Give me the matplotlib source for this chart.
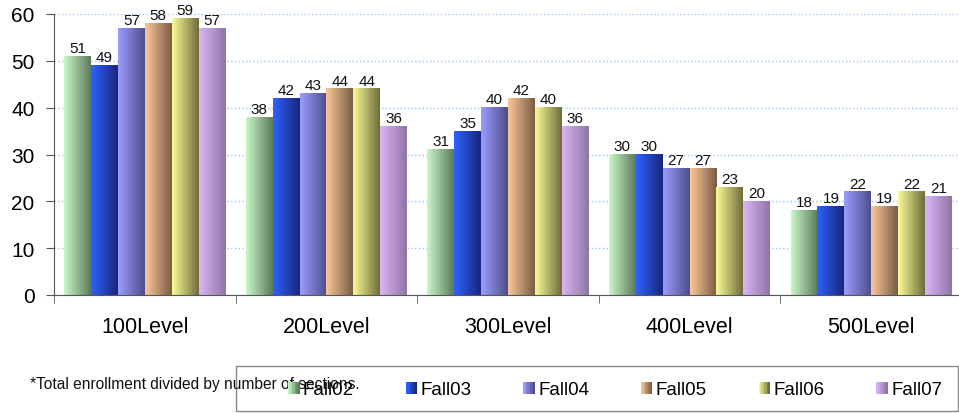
import numpy as np
import matplotlib.pyplot as plt
from matplotlib.colors import LinearSegmentedColormap
from matplotlib.patches import Rectangle
from matplotlib.legend_handler import HandlerBase

plt.rcParams['font.family'] = ['Liberation Sans', 'DejaVu Sans']

categories = ['100Level', '200Level', '300Level', '400Level', '500Level']
series = ['Fall02', 'Fall03', 'Fall04', 'Fall05', 'Fall06', 'Fall07']
fall02 = [51, 38, 31, 30, 18]
fall03 = [49, 42, 35, 30, 19]
fall04 = [57, 43, 40, 27, 22]
fall05 = [58, 44, 42, 27, 19]
fall06 = [59, 44, 40, 23, 22]
fall07 = [57, 36, 36, 20, 21]
values = [fall02, fall03, fall04, fall05, fall06, fall07]

# light -> dark, left to right on each bar
grads = [('#c8f8c8', '#5c7a5c'),
         ('#2e62ff', '#18267a'),
         ('#9c9cff', '#4e4e8c'),
         ('#fac898', '#7a5c44'),
         ('#fafa98', '#6e6e3c'),
         ('#dcb4f6', '#8e76a6')]
cmaps = [LinearSegmentedColormap.from_list('g%d' % i, g) for i, g in enumerate(grads)]
grad = np.linspace(0, 1, 64).reshape(1, -1)

fig = plt.figure(figsize=(9.59, 4.14), dpi=100)
ax = fig.add_axes([54/959, 118/414, 908/959, 281/414])

x = np.arange(len(categories))
w = 0.148
for i, (name, vals) in enumerate(zip(series, values)):
    off = (i - 2.5) * w
    bars = ax.bar(x + off, vals, w, color='none', edgecolor='none', label=name)
    for b in bars:
        ax.imshow(grad, cmap=cmaps[i], aspect='auto', interpolation='bicubic',
                  extent=(b.get_x(), b.get_x() + b.get_width(), 0, b.get_height()),
                  zorder=2)
    ax.bar_label(bars, padding=1, fontsize=11, color='#111111')

ax.set_xlim(-0.5, len(categories) - 0.5)
ax.set_ylim(0, 60)
ax.set_yticks(range(0, 61, 10))
ax.set_xticks(x)
ax.set_xticklabels(categories)
ax.set_xticks(np.arange(len(categories) + 1) - 0.5, minor=True)
ax.tick_params(axis='x', which='major', length=0, pad=15, labelsize=15.5)
ax.tick_params(axis='x', which='minor', length=6, color='#555555')
ax.tick_params(axis='y', length=6, color='#555555', labelsize=15, pad=8)
ax.yaxis.grid(True, color='#9cc4ee', linestyle=':', linewidth=1)
ax.set_axisbelow(True)
for s in ['top', 'right']:
    ax.spines[s].set_visible(False)
ax.spines['left'].set_color('#555555')
ax.spines['bottom'].set_color('#555555')


class GradHandler(HandlerBase):
    def __init__(self, cmap):
        super().__init__()
        self.cmap = cmap

    def create_artists(self, legend, orig_handle, xdescent, ydescent, width,
                       height, fontsize, trans):
        arts = []
        n = 8
        for k in range(n):
            r = Rectangle((-xdescent + k * width / n, -ydescent), width / n + 0.3, height,
                          facecolor=self.cmap(k / (n - 1)), edgecolor='none',
                          transform=trans)
            arts.append(r)
        return arts


handles = [Rectangle((0, 0), 1, 1) for _ in series]
fig.legend(handles, series, loc='center left',
           bbox_to_anchor=(288/959, 23/414), ncol=6, frameon=False,
           fontsize=13.5, handlelength=0.6, handleheight=0.6, handletextpad=0.2,
           columnspacing=2.75, borderpad=0, borderaxespad=0,
           handler_map={h: GradHandler(c) for h, c in zip(handles, cmaps)})

fig.patches.append(Rectangle((236/959, 2/414), 722/959, 45/414, transform=fig.transFigure,
                             facecolor='none', edgecolor='#888888', linewidth=1))

# the footnote runs under the legend box in the original too
fig.text(30/959, 29/414, '*Total enrollment divided by number of sections.',
         fontsize=11.2, va='center', ha='left', color='#111111')

fig.savefig('out.png', dpi=100)
